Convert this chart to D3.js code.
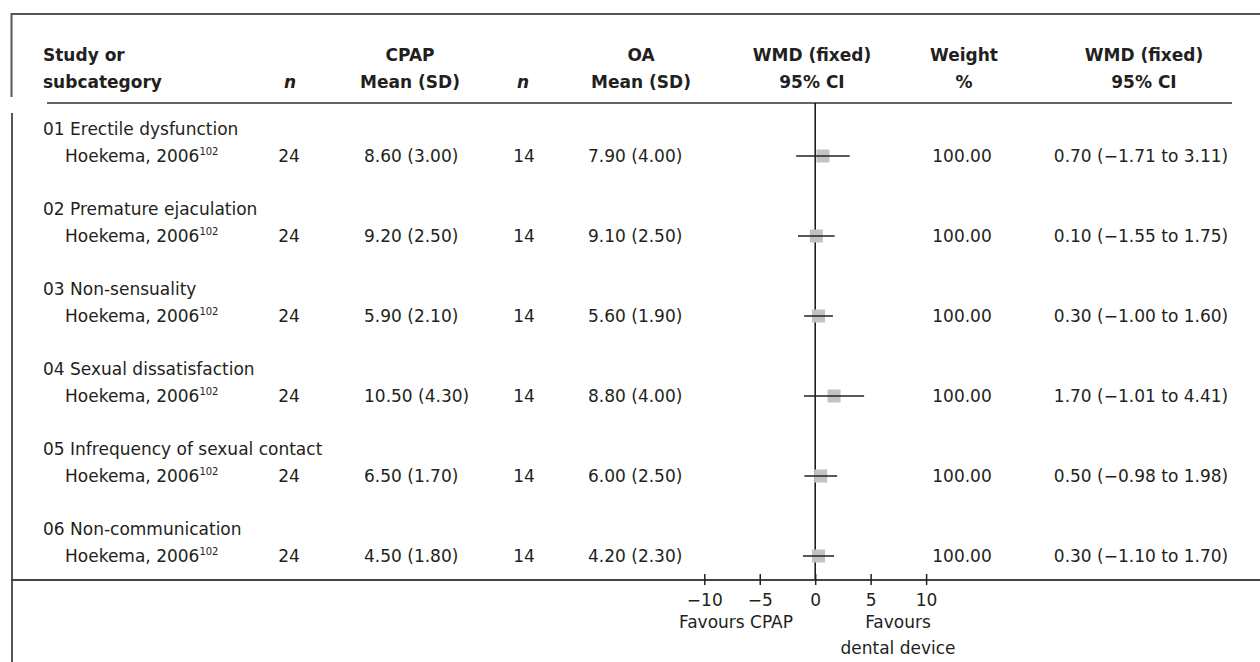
<!DOCTYPE html>
<html>
<head>
<meta charset="utf-8">
<script src="https://cdn.jsdelivr.net/npm/d3@7"></script>
<style>
  html, body { margin: 0; padding: 0; background: #fff; }
  svg { display: block; }
  text { font-family: "DejaVu Sans", sans-serif; fill: #231f20; }
</style>
</head>
<body>
<svg id="chart" width="1260" height="662"></svg>
<script>
// ---- data ----
const groups = ["01 Erectile dysfunction", "02 Premature ejaculation", "03 Non-sensuality",
                "04 Sexual dissatisfaction", "05 Infrequency of sexual contact", "06 Non-communication"];
const studies = ["Hoekema, 2006", "Hoekema, 2006", "Hoekema, 2006", "Hoekema, 2006", "Hoekema, 2006", "Hoekema, 2006"];
const refs = ["102", "102", "102", "102", "102", "102"];
const cpapN = [24, 24, 24, 24, 24, 24];
const cpapMean = [8.60, 9.20, 5.90, 10.50, 6.50, 4.50];
const cpapSD = [3.00, 2.50, 2.10, 4.30, 1.70, 1.80];
const oaN = [14, 14, 14, 14, 14, 14];
const oaMean = [7.90, 9.10, 5.60, 8.80, 6.00, 4.20];
const oaSD = [4.00, 2.50, 1.90, 4.00, 2.50, 2.30];
const weights = [100.00, 100.00, 100.00, 100.00, 100.00, 100.00];
const wmd = [0.70, 0.10, 0.30, 1.70, 0.50, 0.30];
const ciLow = [-1.71, -1.55, -1.00, -1.01, -0.98, -1.10];
const ciHigh = [3.11, 1.75, 1.60, 4.41, 1.98, 1.70];
const xTicks = [-10, -5, 0, 5, 10];
const favoursLeft = ["Favours CPAP"];
const favoursRight = ["Favours", "dental device"];

// ---- layout ----
const svg = d3.select("#chart");
const FS = 17;
const x = d3.scaleLinear().domain([-10, 10]).range([704.3, 926.1]);
const y = d3.scaleLinear().domain([0, groups.length - 1]).range([156, 556]);
const axisY = 580;
const headerLineY = 103;
const f2 = d3.format(".2f");
const fmt = v => f2(v).replace("-", "\u2212");

// frame
svg.append("line").attr("x1", 11).attr("x2", 1260).attr("y1", 14).attr("y2", 14)
  .attr("stroke", "#555").attr("stroke-width", 2);
svg.append("line").attr("x1", 11.5).attr("x2", 11.5).attr("y1", 13).attr("y2", 97)
  .attr("stroke", "#555").attr("stroke-width", 2);
svg.append("line").attr("x1", 12).attr("x2", 12).attr("y1", 113).attr("y2", 662)
  .attr("stroke", "#555").attr("stroke-width", 2);

// header
const hdr = svg.append("g").attr("font-weight", "bold").attr("font-size", FS);
const hb1 = 61, hb2 = 88;
hdr.append("text").attr("x", 43).attr("y", hb1).text("Study or");
hdr.append("text").attr("x", 43).attr("y", hb2).text("subcategory");
hdr.append("text").attr("x", 290).attr("y", hb2).attr("text-anchor", "middle").attr("font-style", "italic").text("n");
hdr.append("text").attr("x", 410).attr("y", hb1).attr("text-anchor", "middle").text("CPAP");
hdr.append("text").attr("x", 410).attr("y", hb2).attr("text-anchor", "middle").text("Mean (SD)");
hdr.append("text").attr("x", 523).attr("y", hb2).attr("text-anchor", "middle").attr("font-style", "italic").text("n");
hdr.append("text").attr("x", 641).attr("y", hb1).attr("text-anchor", "middle").text("OA");
hdr.append("text").attr("x", 641).attr("y", hb2).attr("text-anchor", "middle").text("Mean (SD)");
hdr.append("text").attr("x", 812).attr("y", hb1).attr("text-anchor", "middle").text("WMD (fixed)");
hdr.append("text").attr("x", 812).attr("y", hb2).attr("text-anchor", "middle").text("95% CI");
hdr.append("text").attr("x", 964).attr("y", hb1).attr("text-anchor", "middle").text("Weight");
hdr.append("text").attr("x", 964).attr("y", hb2).attr("text-anchor", "middle").text("%");
hdr.append("text").attr("x", 1144).attr("y", hb1).attr("text-anchor", "middle").text("WMD (fixed)");
hdr.append("text").attr("x", 1144).attr("y", hb2).attr("text-anchor", "middle").text("95% CI");

svg.append("line").attr("x1", 47).attr("x2", 1232).attr("y1", headerLineY).attr("y2", headerLineY)
  .attr("stroke", "#333").attr("stroke-width", 1.5);

// rows
const idx = d3.range(groups.length);
const body = svg.append("g").attr("font-size", FS);
const base = 6;
body.selectAll("text.grp").data(idx).join("text").attr("class", "grp")
  .attr("x", 43).attr("y", i => y(i) - 27 + base).text(i => groups[i]);
const st = body.selectAll("text.st").data(idx).join("text").attr("class", "st")
  .attr("x", 65).attr("y", i => y(i) + base);
st.append("tspan").text(i => studies[i]);
st.append("tspan").attr("font-size", 10).attr("dy", -7).text(i => refs[i]);
body.selectAll("text.n1").data(idx).join("text").attr("class", "n1")
  .attr("x", 289).attr("y", i => y(i) + base).attr("text-anchor", "middle").text(i => cpapN[i]);
body.selectAll("text.m1").data(idx).join("text").attr("class", "m1")
  .attr("x", 364).attr("y", i => y(i) + base).text(i => `${fmt(cpapMean[i])} (${fmt(cpapSD[i])})`);
body.selectAll("text.n2").data(idx).join("text").attr("class", "n2")
  .attr("x", 524).attr("y", i => y(i) + base).attr("text-anchor", "middle").text(i => oaN[i]);
body.selectAll("text.m2").data(idx).join("text").attr("class", "m2")
  .attr("x", 588).attr("y", i => y(i) + base).text(i => `${fmt(oaMean[i])} (${fmt(oaSD[i])})`);
body.selectAll("text.w").data(idx).join("text").attr("class", "w")
  .attr("x", 962).attr("y", i => y(i) + base).attr("text-anchor", "middle").text(i => fmt(weights[i]));
body.selectAll("text.ci").data(idx).join("text").attr("class", "ci")
  .attr("x", 1141).attr("y", i => y(i) + base).attr("text-anchor", "middle")
  .text(i => `${fmt(wmd[i])} (${fmt(ciLow[i])} to ${fmt(ciHigh[i])})`);

// zero line
svg.append("line").attr("x1", x(0)).attr("x2", x(0)).attr("y1", headerLineY).attr("y2", axisY)
  .attr("stroke", "#111").attr("stroke-width", 1.5);

// squares
const sq = 13;
svg.selectAll("rect.sq").data(idx).join("rect").attr("class", "sq")
  .attr("x", i => x(wmd[i]) - sq / 2).attr("y", i => y(i) - sq / 2)
  .attr("width", sq).attr("height", sq).attr("fill", "#c2c2c2");
// CI lines
svg.selectAll("line.ci").data(idx).join("line").attr("class", "ci")
  .attr("x1", i => x(ciLow[i])).attr("x2", i => x(ciHigh[i]))
  .attr("y1", i => y(i)).attr("y2", i => y(i))
  .attr("stroke", "#222").attr("stroke-width", 1.5);

// axis
svg.append("line").attr("x1", 11).attr("x2", 1260).attr("y1", axisY).attr("y2", axisY)
  .attr("stroke", "#444").attr("stroke-width", 2);
const ax = svg.append("g").attr("transform", `translate(0,${axisY})`)
  .call(d3.axisBottom(x).tickValues(xTicks).tickSize(5).tickPadding(9));
ax.select(".domain").remove();
ax.selectAll(".tick line").attr("y1", -6).attr("stroke", "#222").attr("stroke-width", 1.5);
ax.selectAll(".tick text").attr("font-size", FS).attr("font-family", "'DejaVu Sans', sans-serif").attr("fill", "#231f20");

svg.append("text").attr("font-size", FS).attr("x", 736).attr("y", 628).attr("text-anchor", "middle").text(favoursLeft[0]);
svg.selectAll("text.fr").data(favoursRight).join("text").attr("class", "fr")
  .attr("font-size", FS).attr("x", 898).attr("y", (d, i) => 628 + i * 26).attr("text-anchor", "middle").text(d => d);
</script>
</body>
</html>
